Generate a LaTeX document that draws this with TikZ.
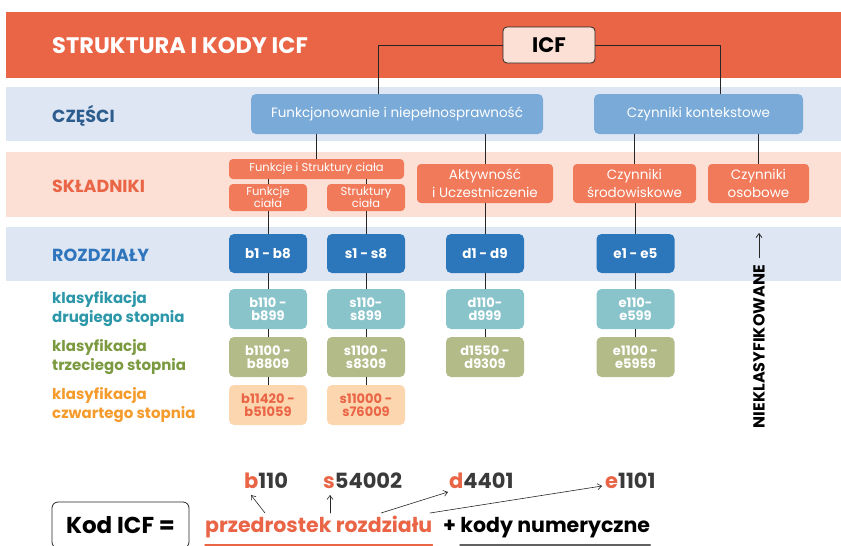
\documentclass[tikz,border=0pt]{standalone}
\usepackage{fontspec}
\setmainfont{Poppins}
\usetikzlibrary{arrows.meta}

\definecolor{icfred}{HTML}{EA6446}
\definecolor{icfpeach}{HTML}{FCE0D5}
\definecolor{bandblue}{HTML}{DFE6F3}
\definecolor{partdark}{HTML}{2D5C8E}
\definecolor{partbox}{HTML}{79AAD8}
\definecolor{compbox}{HTML}{F07A5A}
\definecolor{chaptext}{HTML}{2E75BC}
\definecolor{chapbox}{HTML}{2C76BC}
\definecolor{tealbox}{HTML}{88C4CA}
\definecolor{tealtext}{HTML}{2B97A8}
\definecolor{olivebox}{HTML}{B3BB88}
\definecolor{olivetext}{HTML}{7B9A40}
\definecolor{orangebox}{HTML}{FCD6AE}
\definecolor{orangetext}{HTML}{F59B2C}
\definecolor{codegray}{HTML}{3A3A3A}

\tikzset{
  conn/.style={draw=black!85, line width=0.8pt},
  bandlabel/.style={anchor=base west, inner sep=0pt, font=\bfseries\fontsize{17.5}{20}\selectfont},
  partnode/.style={fill=partbox, text=white, rounded corners=5pt, minimum height=40pt, inner sep=0pt, font=\fontsize{13.5}{16}\selectfont},
  compnode/.style={fill=compbox, text=white, rounded corners=4pt, align=center, inner sep=0pt, font=\fontsize{13.5}{18}\selectfont},
  chapnode/.style={fill=chapbox, text=white, rounded corners=5pt, minimum width=78pt, minimum height=39pt, inner sep=0pt, align=center, font=\bfseries\fontsize{13.5}{14}\selectfont},
  lvltwo/.style={chapnode, fill=tealbox, minimum height=40pt, font=\bfseries\fontsize{13}{13.5}\selectfont},
  lvlthree/.style={lvltwo, fill=olivebox},
  lvlfour/.style={lvltwo, fill=orangebox, text=icfred},
  lvllabel/.style={anchor=west, inner sep=0pt, align=left, font=\bfseries\fontsize{15}{19}\selectfont},
  codenode/.style={anchor=base west, inner sep=0pt, text=codegray, font=\bfseries\fontsize{21}{24}\selectfont},
  bottomtext/.style={anchor=base west, inner sep=0pt, font=\bfseries\fontsize{20.5}{24}\selectfont},
}

\begin{document}
\begin{tikzpicture}[x=1pt, y=-1pt, line cap=round, line join=round, >={Straight Barb[length=4pt,width=6pt]}]
	\def\xb{268}
	\def\xs{366}
	\def\xd{485}
	\def\xe{635.5}
	\useasboundingbox (0,0) rectangle (841,546);
	% pasy tla
	\fill[icfred] (6,12) rectangle (841,78);
	\fill[bandblue] (6,87) rectangle (841,141);
	\fill[icfpeach] (6,152) rectangle (841,217);
	\fill[bandblue] (6,227) rectangle (841,281);

	% naglowek
	\node[anchor=base west, inner sep=0pt, text=white, font=\bfseries\fontsize{22.5}{24}\selectfont] (title) at (52,53) {STRUKTURA I KODY ICF};
	\node[draw=black!85, line width=0.8pt, fill=icfpeach, rounded corners=4pt, minimum width=92pt, minimum height=36pt, inner sep=0pt, font=\bfseries\fontsize{21}{24}\selectfont] (icf) at (549,45) {ICF};

	% czesci
	\node[bandlabel, text=partdark] (czesci) at (52,122) {CZĘŚCI};
	\node[partnode, minimum width=292pt] (funk) at (397,114) {Funkcjonowanie i niepełnosprawność};
	\node[partnode, minimum width=209pt] (kont) at (698.5,114) {Czynniki kontekstowe};

	% skladniki
	\node[bandlabel, text=icfred] (sklad) at (52,192) {SKŁADNIKI};
	\node[compnode, minimum width=175pt, minimum height=20pt, font=\fontsize{11.5}{12}\selectfont] (fsc) at (316.5,169) {Funkcje i Struktury ciała};
	\node[compnode, minimum width=78pt, minimum height=27pt, font=\fontsize{11.5}{12}\selectfont] (fc) at (\xb,197.5) {Funkcje\\ciała};
	\node[compnode, minimum width=78pt, minimum height=27pt, font=\fontsize{11.5}{12}\selectfont] (sc) at (\xs,197.5) {Struktury\\ciała};
	\node[compnode, minimum width=136pt, minimum height=39pt] (akt) at (\xd,183.5) {Aktywność\\i Uczestniczenie};
	\node[compnode, minimum width=123pt, minimum height=39pt] (srod) at (634.5,183.5) {Czynniki\\środowiskowe};
	\node[compnode, minimum width=101pt, minimum height=39pt] (osob) at (758.5,183.5) {Czynniki\\osobowe};

	% rozdzialy
	\node[bandlabel, text=chaptext] (rozdz) at (52,261) {ROZDZIAŁY};
	\node[chapnode] (b1) at (\xb,253.5) {b1 - b8};
	\node[chapnode] (s1) at (\xs,253.5) {s1 - s8};
	\node[chapnode] (d1) at (\xd,253.5) {d1 - d9};
	\node[chapnode] (e1) at (\xe,253.5) {e1 - e5};

	% poziomy klasyfikacji
	\node[lvllabel, text=tealtext] (kl2) at (52,309) {klasyfikacja\\drugiego stopnia};
	\node[lvltwo] (b2) at (\xb,309) {b110 -\\b899};
	\node[lvltwo] (s2) at (\xs,309) {s110-\\s899};
	\node[lvltwo] (d2) at (\xd,309) {d110-\\d999};
	\node[lvltwo] (e2) at (\xe,309) {e110-\\e599};

	\node[lvllabel, text=olivetext] (kl3) at (52,357) {klasyfikacja\\trzeciego stopnia};
	\node[lvlthree] (b3) at (\xb,357) {b1100 -\\b8809};
	\node[lvlthree] (s3) at (\xs,357) {s1100 -\\s8309};
	\node[lvlthree] (d3) at (\xd,357) {d1550 -\\d9309};
	\node[lvlthree] (e3) at (\xe,357) {e1100 -\\e5959};

	\node[lvllabel, text=orangetext] (kl4) at (52,405) {klasyfikacja\\czwartego stopnia};
	\node[lvlfour] (b4) at (\xb,405) {b11420 -\\b51059};
	\node[lvlfour] (s4) at (\xs,405) {s11000 -\\s76009};

	\node[rotate=90, inner sep=0pt, font=\bfseries\fontsize{16}{18}\selectfont] (niek) at (759,346.5) {NIEKLASYFIKOWANE};
	\coordinate (nk) at (759,233);
	\draw[conn, ->] ([yshift=7pt]niek.east) -- (nk);

	% polaczenia
	\draw[conn] (icf.west) -| ([xshift=-19pt]funk.north);
	\draw[conn] (icf.east) -| ([xshift=21.5pt]kont.north);
	\draw[conn] (fsc.north) -- (fsc.north |- funk.south);
	\draw[conn] (akt.north) -- (akt.north |- funk.south);
	\draw[conn] (srod.north) -- (srod.north |- kont.south);
	\draw[conn] (osob.north) -- (osob.north |- kont.south);
	\draw[conn] (fc.north) -- (fc.north |- fsc.south);
	\draw[conn] (sc.north) -- (sc.north |- fsc.south);
	\draw[conn] (e1.north) -- (e1.north |- srod.south);
	\foreach \u/\v in {fc/b1, sc/s1, akt/d1, b1/b2, b2/b3, b3/b4, s1/s2, s2/s3, s3/s4, d1/d2, d2/d3, e1/e2, e2/e3}
		\draw[conn] (\u) -- (\v);

	% kod ICF
	\node[codenode] (cb) at (244,488) {\textcolor{icfred}{b}110};
	\node[codenode] (cs) at (323,488) {\textcolor{icfred}{s}54002};
	\node[codenode] (cd) at (449,488) {\textcolor{icfred}{d}4401};
	\node[codenode] (ce) at (605,488) {\textcolor{icfred}{e}1101};
	\node[draw=black!85, line width=0.8pt, rounded corners=6pt, minimum width=137pt, minimum height=46pt, inner sep=0pt, font=\bfseries\fontsize{23}{24}\selectfont] (kod) at (120.5,525) {Kod ICF =};
	\node[bottomtext, text=icfred] (pr) at (205,532) {przedrostek rozdziału};
	\node[bottomtext] (num) at (443,532) {+ kody numeryczne};
	\draw[icfred, line width=1.5pt] ([yshift=-13pt]pr.base west) -- ([yshift=-13pt]pr.base east);
	\draw[codegray!80, line width=1.5pt] ([xshift=17pt,yshift=-13pt]num.base west) -- ([yshift=-13pt]num.base east);
	\draw[conn, ->, line width=0.6pt] ([xshift=60pt,yshift=19pt]pr.base west) -- ([xshift=7pt,yshift=-7pt]cb.base west);
	\draw[conn, ->, line width=0.6pt] ([xshift=125pt,yshift=19pt]pr.base west) -- ([xshift=7pt,yshift=-7pt]cs.base west);
	\draw[conn, ->, line width=0.6pt] ([xshift=176pt,yshift=19pt]pr.base west) -- ([xshift=-1pt,yshift=-4pt]cd.base west);
	\draw[conn, ->, line width=0.6pt] ([xshift=225pt,yshift=19pt]pr.base west) -- ([xshift=-3pt,yshift=2pt]ce.base west);
\end{tikzpicture}
\end{document}
